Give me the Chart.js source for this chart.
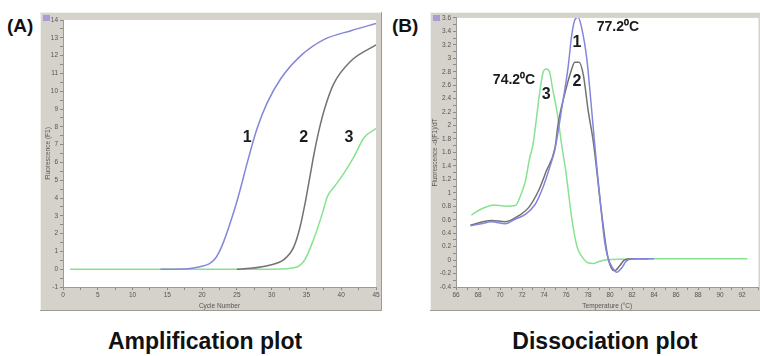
<!DOCTYPE html>
<html>
<head>
<meta charset="utf-8">
<script src="https://cdn.jsdelivr.net/npm/chart.js@4.4.1/dist/chart.umd.min.js"></script>
<style>
  html, body { margin: 0; padding: 0; background: #fff; }
  body { width: 760px; height: 356px; position: relative; overflow: hidden;
         font-family: "Liberation Sans", Arial, sans-serif; }
  canvas { position: absolute; }
  #chart-1 { left: 40px; top: 12px; }
  #chart-2 { left: 430px; top: 12px; }
  .tag { position: absolute; font-weight: bold; font-size: 19px; line-height: 1; color: #111; }
  .cap { position: absolute; width: 300px; text-align: center; font-weight: bold;
         font-size: 23px; line-height: 1; color: #111; }
</style>
</head>
<body>
<div class="tag" style="left:7px; top:16px;">(A)</div>
<div class="tag" style="left:392px; top:16px;">(B)</div>
<canvas id="chart-1" width="342" height="299"></canvas>
<canvas id="chart-2" width="332" height="299"></canvas>
<div class="cap" style="left:55px; top:330px;">Amplification plot</div>
<div class="cap" style="left:455px; top:330px;">Dissociation plot</div>
<script>
// amplification plot, cycle number vs fluorescence
var ampCycles1 = [14, 18, 19.7, 21, 21.9, 22.5, 23.1, 24, 25, 25.7, 26.5, 27.9, 29.3, 31.3, 34.2, 37.5, 41.4, 45];
var ampFluor1 = [0, 0.03, 0.14, 0.3, 0.6, 1.0, 1.55, 2.55, 3.8, 4.8, 6.0, 7.9, 9.3, 10.7, 12.0, 12.9, 13.4, 13.8];
var ampCycles2 = [25, 27, 29.8, 31.7, 33.2, 34.1, 34.9, 35.5, 36.1, 36.8, 37.6, 38.9, 41.4, 45];
var ampFluor2 = [0, 0.05, 0.24, 0.52, 1.27, 2.4, 3.9, 5.2, 6.5, 7.8, 9.0, 10.4, 11.7, 12.6];
var ampCycles3 = [1, 10, 20, 30, 32.7, 34.6, 36.0, 37.3, 38.0, 39.0, 40.4, 41.8, 43.3, 45];
var ampFluor3 = [0, 0, 0, 0, 0.05, 0.43, 1.64, 3.15, 4.07, 4.63, 5.4, 6.3, 7.4, 7.9];

// dissociation plot, temperature vs -dF/dT
var dissTemp1 = [67.3, 68.3, 69.2, 70.5, 71.4, 72.3, 73.2, 73.9, 74.5, 75.0, 75.6, 76.2, 76.5, 76.8, 77.1, 77.4, 77.9, 78.3, 78.6, 78.9, 79.2, 79.5, 79.8, 80.3, 80.6, 81.1, 81.5, 82.3, 84];
var dissDeriv1 = [0.51, 0.54, 0.57, 0.54, 0.61, 0.68, 0.83, 1.08, 1.37, 1.65, 2.24, 2.88, 3.32, 3.57, 3.61, 3.47, 2.98, 2.29, 1.74, 1.22, 0.73, 0.29, 0.04, -0.13, -0.18, -0.11, -0.01, 0.02, 0.02];
var dissTemp2 = [67.3, 69.2, 70.5, 71.7, 72.6, 73.5, 74.2, 75.0, 75.3, 75.9, 76.5, 76.8, 77.2, 77.6, 78.0, 78.5, 79.2, 79.8, 80.4, 80.9, 81.3, 82, 83.5];
var dissDeriv2 = [0.52, 0.59, 0.57, 0.66, 0.78, 1.03, 1.32, 1.67, 2.04, 2.48, 2.83, 2.94, 2.94, 2.73, 2.24, 1.74, 0.75, 0.05, -0.16, -0.08, 0.0, 0.02, 0.02];
var dissTemp3 = [67.4, 68.3, 69.5, 70.5, 71.4, 71.8, 72.3, 72.7, 73.0, 73.3, 73.6, 73.9, 74.2, 74.5, 74.8, 75.2, 75.6, 76.0, 76.5, 77.0, 77.5, 78.0, 78.5, 79.0, 80.0, 85, 92.5];
var dissDeriv3 = [0.67, 0.76, 0.82, 0.80, 0.81, 0.93, 1.17, 1.52, 1.72, 2.09, 2.48, 2.78, 2.84, 2.8, 2.53, 2.19, 1.72, 1.3, 0.65, 0.2, 0.04, -0.04, -0.05, -0.02, 0.01, 0.02, 0.02];

// curve numbers and peak temperatures written on the plots
var ampNotes = [
  { text: "1", x: 26.5, y: 7.4 },
  { text: "2", x: 34.6, y: 7.4 },
  { text: "3", x: 41.1, y: 7.4 },
];
var dissNotes = [
  { text: "1", x: 77.0, y: 3.24 },
  { text: "2", x: 77.0, y: 2.65 },
  { text: "3", x: 74.2, y: 2.46 },
  { text: "77.2⁰C", x: 78.8, y: 3.47, align: "left", small: true },
  { text: "74.2⁰C", x: 73.2, y: 2.68, align: "right", small: true },
];

var blue = "#8486dc";
var grey = "#727272";
var green = "#88e28f";
var tickFont = { family: "'Liberation Sans', Arial, sans-serif", size: 6.5 };

function pts(xs, ys) {
  return xs.map(function (v, i) { return { x: v, y: ys[i] }; });
}

function line(data, color) {
  return {
    data: data,
    borderColor: color,
    borderWidth: 1.5,
    pointRadius: 0,
    fill: false,
    cubicInterpolationMode: "monotone",
  };
}

// grey window frame with white plot area
var framePlugin = {
  id: "frame",
  beforeDraw: function (chart) {
    var ctx = chart.ctx, a = chart.chartArea;
    ctx.save();
    ctx.fillStyle = "#d5d2cb";
    ctx.fillRect(0, 0, chart.width, chart.height);
    ctx.fillStyle = "#fff";
    ctx.fillRect(a.left, a.top, a.right - a.left, a.bottom - a.top);
    ctx.strokeStyle = "#f3f2ef";
    ctx.lineWidth = 1;
    ctx.beginPath();
    ctx.moveTo(0.5, chart.height);
    ctx.lineTo(0.5, 0.5);
    ctx.lineTo(chart.width, 0.5);
    ctx.stroke();
    ctx.strokeStyle = "#9e9b95";
    ctx.beginPath();
    ctx.moveTo(0, chart.height - 0.5);
    ctx.lineTo(chart.width - 0.5, chart.height - 0.5);
    ctx.lineTo(chart.width - 0.5, 0);
    ctx.stroke();
    ctx.fillStyle = "#a99ad8";
    ctx.fillRect(3, 3, 7, 6);
    ctx.restore();
  },
};

function notesPlugin(items) {
  return {
    id: "notes",
    afterDatasetsDraw: function (chart) {
      var ctx = chart.ctx, x = chart.scales.x, y = chart.scales.y;
      ctx.save();
      ctx.fillStyle = "#1c1c1c";
      ctx.textBaseline = "middle";
      items.forEach(function (n) {
        ctx.font = n.small ? "bold 14px 'Liberation Sans', Arial, sans-serif"
                           : "bold 16px 'Liberation Sans', Arial, sans-serif";
        ctx.textAlign = n.align || "center";
        ctx.fillText(n.text, x.getPixelForValue(n.x), y.getPixelForValue(n.y));
      });
      ctx.restore();
    },
  };
}

function axisGrid() {
  return { drawOnChartArea: false, drawTicks: true, tickLength: 3, color: "#8a8a8a" };
}

function makeChart(id, datasets, xOpts, yOpts, notes, pad) {
  return new Chart(document.getElementById(id).getContext("2d"), {
    type: "line",
    data: { datasets: datasets },
    options: {
      responsive: false,
      animation: false,
      layout: { padding: pad },
      plugins: { legend: { display: false }, tooltip: { enabled: false } },
      scales: { x: xOpts, y: yOpts },
    },
    plugins: [framePlugin, notesPlugin(notes)],
  });
}

makeChart(
  "chart-1",
  [
    line(pts(ampCycles1, ampFluor1), blue),
    line(pts(ampCycles2, ampFluor2), grey),
    line(pts(ampCycles3, ampFluor3), green),
  ],
  {
    type: "linear",
    min: 0,
    max: 45,
    grid: axisGrid(),
    border: { color: "#9a9a9a" },
    ticks: {
      stepSize: 2.5,
      autoSkip: false,
      maxRotation: 0,
      padding: 1,
      color: "#555",
      font: tickFont,
      callback: function (v) { return v % 5 === 0 ? String(v) : ""; },
    },
    title: { display: true, text: "Cycle Number", color: "#555", font: tickFont, padding: { top: 0, bottom: 1 } },
    afterFit: function (s) { s.height = 24; },
  },
  {
    min: -1,
    max: 14,
    grid: axisGrid(),
    border: { color: "#9a9a9a" },
    ticks: {
      stepSize: 0.5,
      autoSkip: false,
      padding: 2,
      color: "#555",
      font: tickFont,
      callback: function (v) { return Number.isInteger(v) ? String(v) : ""; },
    },
    title: { display: true, text: "Fluorescence (F1)", color: "#555", font: tickFont, padding: { top: 4.5, bottom: 0 } },
    afterFit: function (s) { s.width = 23; },
  },
  ampNotes,
  { top: 8, right: 6, left: 0, bottom: 0 }
);

makeChart(
  "chart-2",
  [
    line(pts(dissTemp1, dissDeriv1), blue),
    line(pts(dissTemp2, dissDeriv2), grey),
    line(pts(dissTemp3, dissDeriv3), green),
  ],
  {
    type: "linear",
    min: 66,
    max: 93.5,
    grid: axisGrid(),
    border: { color: "#9a9a9a" },
    ticks: {
      stepSize: 1,
      autoSkip: false,
      maxRotation: 0,
      padding: 1,
      color: "#555",
      font: tickFont,
      callback: function (v) { return v % 2 === 0 ? String(v) : ""; },
    },
    title: { display: true, text: "Temperature (°C)", color: "#555", font: tickFont, padding: { top: 0, bottom: 1 } },
    afterFit: function (s) { s.height = 24; },
  },
  {
    min: -0.4,
    max: 3.6,
    grid: axisGrid(),
    border: { color: "#9a9a9a" },
    ticks: {
      stepSize: 0.1,
      autoSkip: false,
      padding: 2,
      color: "#555",
      font: tickFont,
      callback: function (v) {
        var k = Math.round(v * 10);
        if (k % 2 !== 0) return "";
        return String(k / 10);
      },
    },
    title: { display: true, text: "Fluorescence -d(F1)/dT", color: "#555", font: tickFont, padding: { top: 1.5, bottom: 0 } },
    afterFit: function (s) { s.width = 26; },
  },
  dissNotes,
  { top: 5, right: 3.5, left: 0, bottom: 0 }
);
</script>
</body>
</html>
